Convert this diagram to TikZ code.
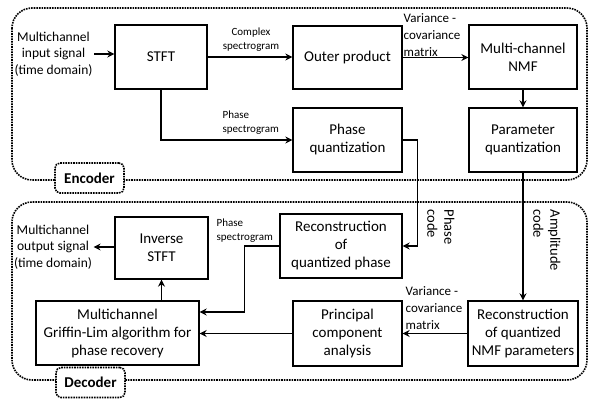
\documentclass[tikz,border=0pt]{standalone}
\usepackage{fontspec}
\setmainfont{Carlito}
\usetikzlibrary{arrows.meta}
\def\gross{\fontsize{15}{18}\selectfont}
\def\mittel{\fontsize{13.5}{16.5}\selectfont}
\def\var{\fontsize{13}{17}\selectfont}
\def\klein{\fontsize{11}{14}\selectfont}
\def\code{\fontsize{14.5}{17}\selectfont}

\begin{document}
\begin{tikzpicture}[x=1pt,y=-1pt,>={Stealth[length=7pt,width=7pt]},line width=1.3pt,
	kasten/.style={draw,align=center,font=\gross,inner sep=1pt},
	rahmen/.style={line width=1.6pt,dash pattern=on 1.6pt off 1pt,rounded corners=20pt},
	marke/.style={draw,line width=1.6pt,dash pattern=on 1.6pt off 1pt,rounded corners=5pt,
		fill=white,font=\gross\bfseries,minimum width=69pt,minimum height=30pt},
	signal/.style={align=center,font=\mittel,inner sep=1pt},
	notiz/.style={align=left,anchor=west,inner sep=0pt}]
\useasboundingbox (0,0) rectangle (589,401);

% Rahmen
\draw[rahmen] (12,8) rectangle (587,180);
\draw[rahmen] (12,202) rectangle (587,380);
\node[marke] (enc) at (89.5,178) {Encoder};
\node[marke] (dec) at (90.5,382.5) {Decoder};

% Encoder
\node[kasten,minimum width=92pt,minimum height=64pt] (stft) at (161,57) {STFT};
\node[kasten,minimum width=109pt,minimum height=63pt] (aussen) at (347.5,57.5) {Outer product};
\node[kasten,minimum width=108pt,minimum height=64pt] (nmf) at (523,57) {Multi-channel\\NMF};
\node[kasten,minimum width=109pt,minimum height=64pt] (phq) at (347.5,140) {Phase\\quantization};
\node[kasten,minimum width=108pt,minimum height=64pt] (parq) at (523,140) {Parameter\\quantization};
\node[signal] (ein) at (53.5,54) {Multichannel\\input signal\\(time domain)};

% Decoder
\node[kasten,minimum width=122pt,minimum height=64pt] (recph) at (341,246) {Reconstruction\\of\\quantized phase};
\node[kasten,minimum width=93pt,minimum height=62pt] (istft) at (161.5,248) {Inverse\\STFT};
\node[kasten,minimum width=163pt,minimum height=64pt] (gl) at (117.5,333) {Multichannel\\Griffin-Lim algorithm for\\phase recovery};
\node[kasten,minimum width=109pt,minimum height=65pt] (pca) at (347.5,333.5) {Principal\\component\\analysis};
\node[kasten,minimum width=110pt,minimum height=65pt] (recnmf) at (523,333.5) {Reconstruction\\of quantized\\NMF parameters};
\node[signal] (aus) at (53,247) {Multichannel\\output signal\\(time domain)};

% Verbindungen
\draw[->] (ein.east) -- (ein.east -| stft.west);
\draw[->] (stft.east) -- (stft.east -| aussen.west);
\draw[->] (aussen.east) -- (aussen.east -| nmf.west);
\draw[->] (stft.south) |- (phq.west);
\draw[->] (nmf) -- (parq);
\draw[->] (phq.east) -- ++(15,0) |- (recph.east);
\draw[->] (parq) -- (recnmf);
\draw[->] (recnmf) -- (pca);
\draw[->] (pca.west) -- (pca.west -| gl.east);
\draw[->] (recph.west) -- ++(-35,0) |- ([yshift=21pt]gl.east);
\draw[->] (gl.north -| istft.south) -- (istft.south);
\draw[->] (istft.west |- aus.east) -- (aus.east);

% Beschriftungen
\node[align=center,font=\klein,inner sep=0pt] (komplex) at (251,40) {Complex\\spectrogram};
\node[notiz,font=\klein] (phspek1) at (222,122.5) {Phase\\spectrogram};
\node[notiz,font=\var] (varkov1) at (403,35) {Variance -\\covariance\\matrix};
\node[notiz,font=\klein] (phspek2) at (216,230.5) {Phase\\spectrogram};
\node[notiz,font=\var] (varkov2) at (405,308) {Variance -\\covariance\\matrix};
\node[font=\code,rotate=-90,anchor=north west,align=left,inner sep=0pt] (phcode) at (455,209) {Phase\\code};
\node[font=\code,rotate=-90,anchor=north west,align=left,inner sep=0pt] (ampcode) at (561,209) {Amplitude\\code};
\end{tikzpicture}
\end{document}
